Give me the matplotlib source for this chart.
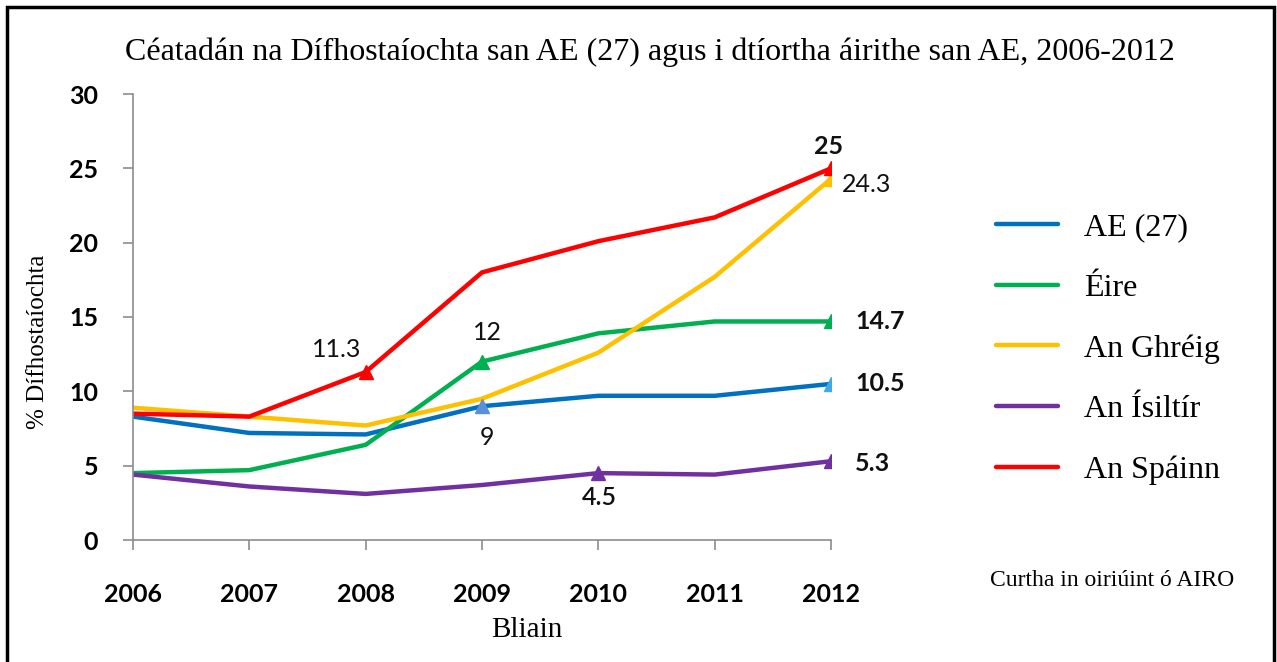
import matplotlib.pyplot as plt
from matplotlib.patches import Rectangle

years = [2006, 2007, 2008, 2009, 2010, 2011, 2012]
eu27 = [8.3, 7.2, 7.1, 9.0, 9.7, 9.7, 10.5]
ireland = [4.5, 4.7, 6.4, 12.0, 13.9, 14.7, 14.7]
greece = [8.9, 8.3, 7.7, 9.5, 12.6, 17.7, 24.3]
netherlands = [4.4, 3.6, 3.1, 3.7, 4.5, 4.4, 5.3]
spain = [8.5, 8.3, 11.3, 18.0, 20.1, 21.7, 25.0]

names = ['AE (27)', 'Éire', 'An Ghréig', 'An Ísiltír', 'An Spáinn']
colors = ['#0070C0', '#00B050', '#FFC000', '#7030A0', '#FF0000']
series = [eu27, ireland, greece, netherlands, spain]

# (series index, year index, label text, offset px, ha, weight, marker colour)
labels = [
    (4, 2, '11.3', (-29, 23), 'center', 'normal', '#FF0000'),
    (1, 3, '12', (5, 29), 'center', 'normal', '#00B050'),
    (0, 3, '9', (5, -31), 'center', 'normal', '#5B8FD8'),
    (3, 4, '4.5', (1, -24), 'center', 'semibold', '#7030A0'),
    (4, 6, '25', (-2, 22), 'center', 'bold', '#FF0000'),
    (2, 6, '24.3', (11, -6), 'left', 'normal', '#FFC000'),
    (1, 6, '14.7', (24, 0), 'left', 'bold', '#00B050'),
    (0, 6, '10.5', (24, 0), 'left', 'bold', '#3FA9E8'),
    (3, 6, '5.3', (24, -2), 'left', 'bold', '#7030A0'),
]

fig = plt.figure(figsize=(12.77, 6.62), dpi=100)
ax = fig.add_axes([133 / 1277, 1 - 540 / 662, 698 / 1277, 446 / 662])

for name, col, vals in zip(names, colors, series):
    ax.plot(years, vals, color=col, lw=3.2, label=name, solid_capstyle='round')

# yellow marker first so red sits on top at 2012
for si, yi, txt, off, ha, wt, mc in sorted(labels, key=lambda r: r[0] != 2):
    ax.plot(years[yi], series[si][yi], marker='^', ms=10, color=mc, mec=mc,
            zorder=5)
    ax.annotate(txt, (years[yi], series[si][yi]), xytext=off,
                textcoords='offset pixels', ha=ha, va='center',
                fontsize=18, fontweight=wt, family='Lato', color='#111111')

ax.set_xlim(2006, 2012)
ax.set_ylim(0, 30)
ax.set_xticks(years)
ax.set_yticks(range(0, 31, 5))
for side in ['top', 'right']:
    ax.spines[side].set_visible(False)
for side in ['left', 'bottom']:
    ax.spines[side].set_color('#8c8c8c')
    ax.spines[side].set_linewidth(1.2)
ax.tick_params(axis='both', direction='out', length=7, color='#8c8c8c',
               width=1.2, labelsize=18)
ax.tick_params(axis='x', pad=24)
ax.tick_params(axis='y', pad=18)
for lab in ax.get_xticklabels() + ax.get_yticklabels():
    lab.set_family('Lato')
    lab.set_fontweight('bold')

fig.text(38 / 1277, 1 - 342 / 662, '% Dífhostaíochta', rotation=90,
         ha='center', va='center', family='Liberation Serif', fontsize=18)
fig.text(527 / 1277, 1 - 630 / 662, 'Bliain', ha='center', va='center',
         family='Liberation Serif', fontsize=21)

fig.text(650 / 1277, 1 - 52 / 662,
         'Céatadán na Dífhostaíochta san AE (27) agus i dtíortha áirithe san AE, 2006-2012',
         ha='center', va='center', family='Liberation Serif', fontsize=23)
fig.text(1112 / 1277, 1 - 580 / 662, 'Curtha in oiriúint ó AIRO',
         ha='center', va='center', family='Liberation Serif', fontsize=17)

fig.legend(loc='upper left', bbox_to_anchor=(967 / 1277, 1 - 184 / 662),
           frameon=False, prop={'family': 'Liberation Serif', 'size': 23},
           handlelength=1.95, handletextpad=0.8, labelspacing=0.98)

fig.patches.append(Rectangle((7 / 1277, -0.05), 1267 / 1277, 1.05 - 7 / 662,
                             transform=fig.transFigure, fill=False,
                             ec='black', lw=2.5))

fig.savefig('out.png', dpi=100)
